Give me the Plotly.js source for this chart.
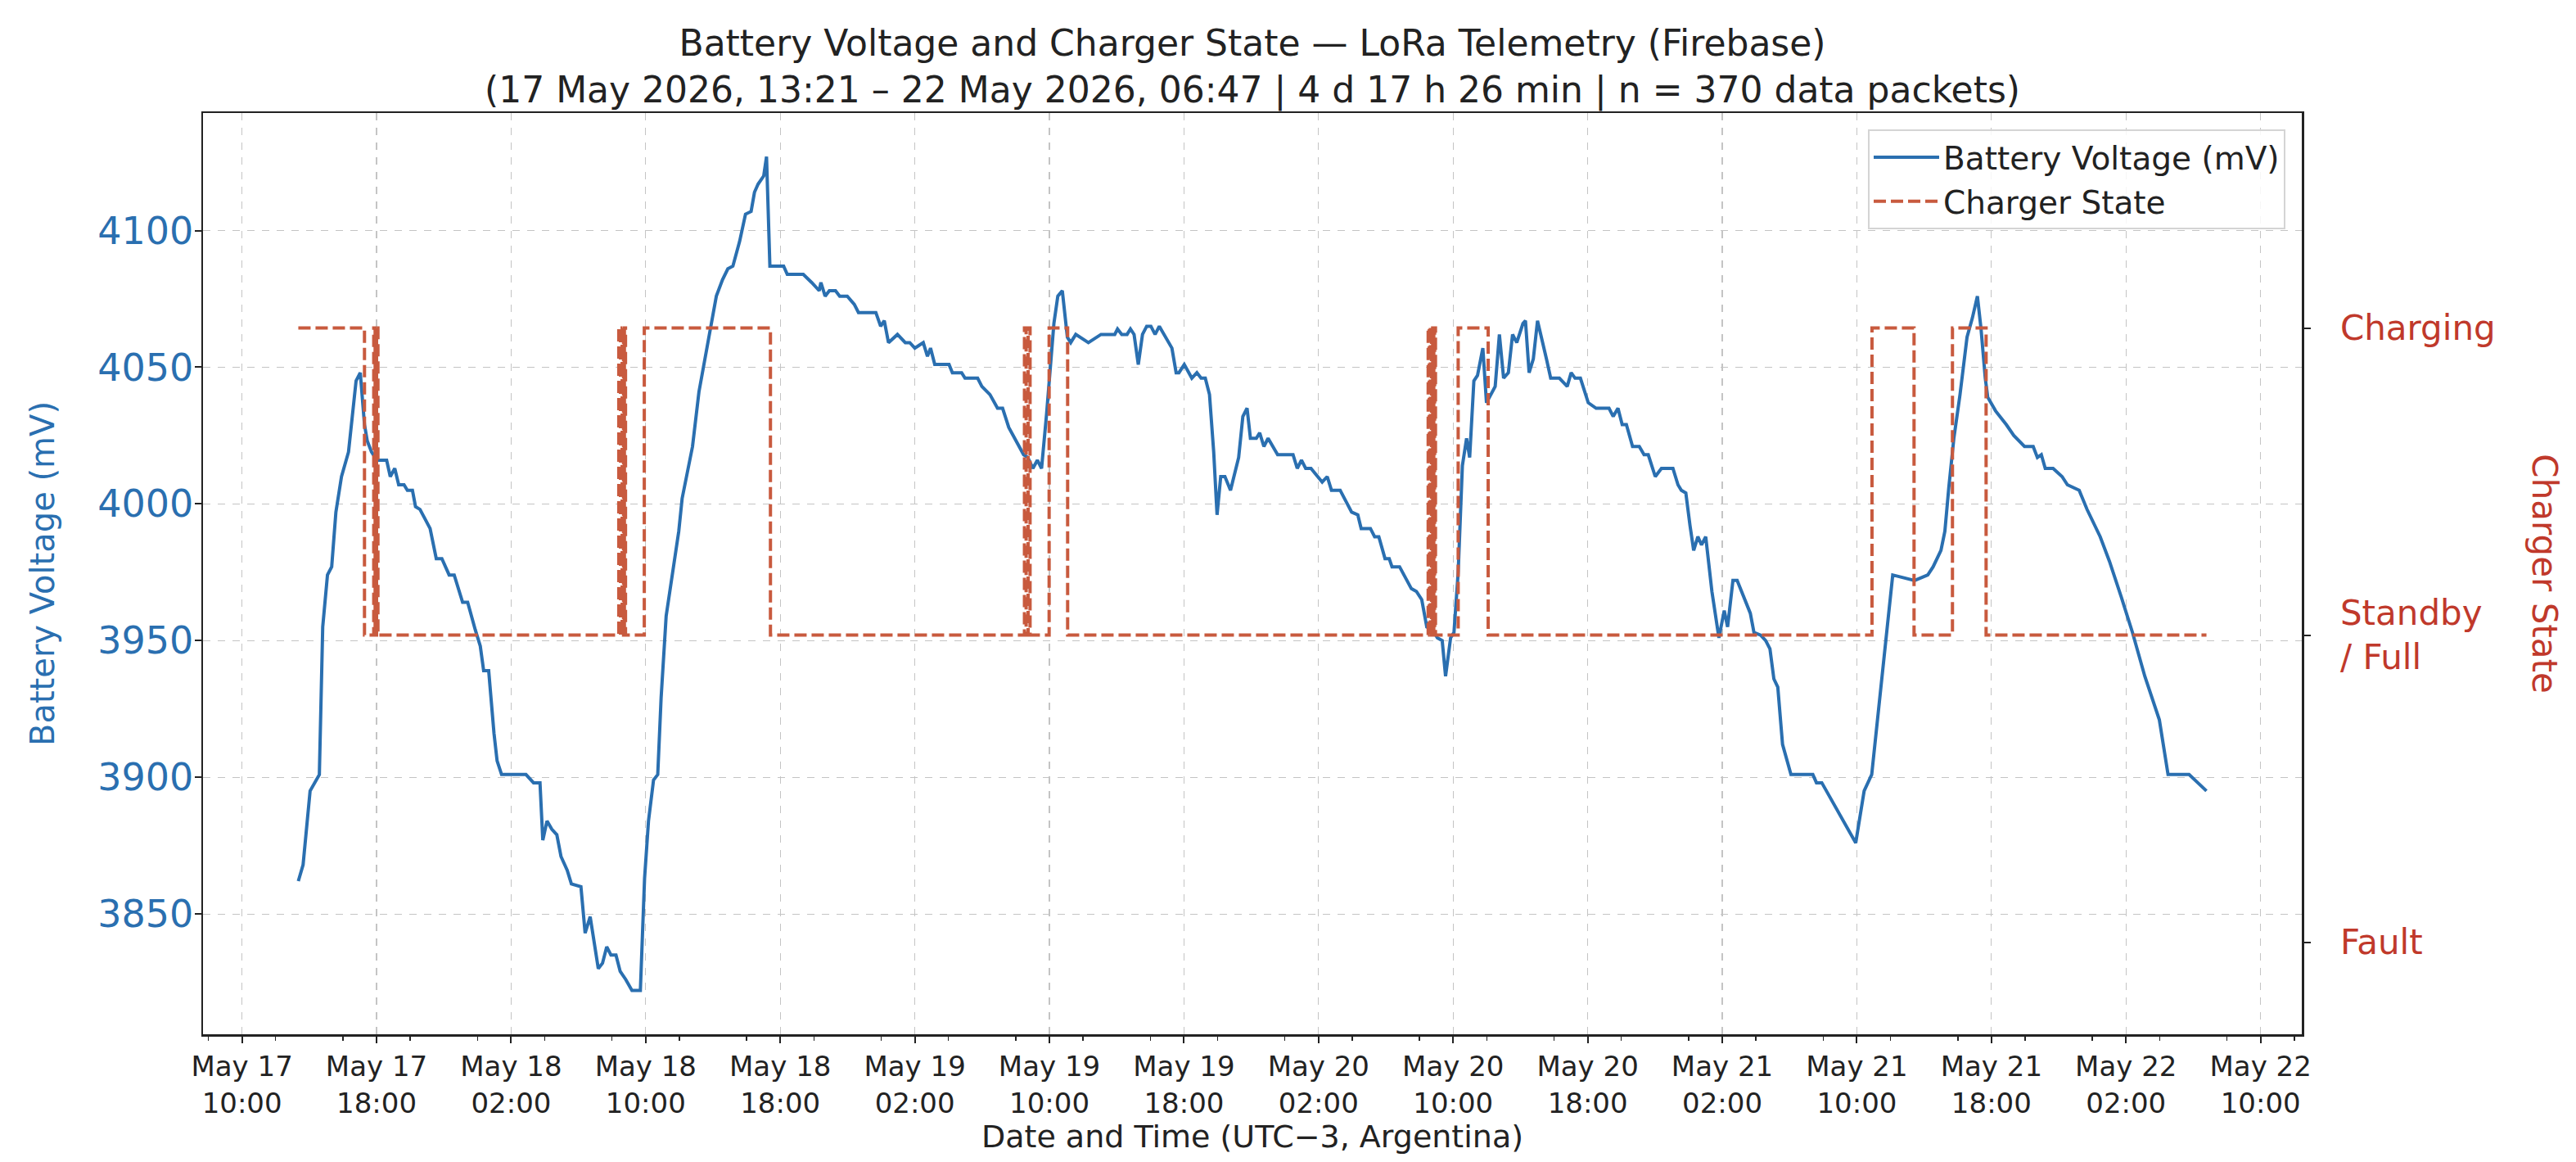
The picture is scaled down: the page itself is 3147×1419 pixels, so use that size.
<!DOCTYPE html>
<html>
<head>
<meta charset="utf-8">
<script src="https://cdn.plot.ly/plotly-3.0.1.min.js"></script>
<style>
  html, body { margin: 0; padding: 0; background: #fff; }
  #chart { width: 3147px; height: 1419px; }
</style>
</head>
<body>
<div id="chart"></div>
<script>
// battery voltage packets (UTC-3)
var voltTimes = [
  '2026-05-17 13:21','2026-05-17 13:38','2026-05-17 14:03','2026-05-17 14:36','2026-05-17 14:48','2026-05-17 15:05',
  '2026-05-17 15:20','2026-05-17 15:35','2026-05-17 15:55','2026-05-17 16:20','2026-05-17 16:47','2026-05-17 17:02',
  '2026-05-17 17:17','2026-05-17 17:27','2026-05-17 17:42','2026-05-17 18:01','2026-05-17 18:36','2026-05-17 18:49',
  '2026-05-17 19:05','2026-05-17 19:19','2026-05-17 19:38','2026-05-17 19:50','2026-05-17 20:08','2026-05-17 20:19',
  '2026-05-17 20:35','2026-05-17 20:50','2026-05-17 21:11','2026-05-17 21:33','2026-05-17 21:53','2026-05-17 22:19',
  '2026-05-17 22:37','2026-05-17 23:07','2026-05-17 23:25','2026-05-17 23:52','2026-05-18 00:10','2026-05-18 00:22',
  '2026-05-18 00:40','2026-05-18 00:59','2026-05-18 01:10','2026-05-18 01:26','2026-05-18 02:53','2026-05-18 03:20',
  '2026-05-18 03:43','2026-05-18 03:53','2026-05-18 04:08','2026-05-18 04:25','2026-05-18 04:43','2026-05-18 04:58',
  '2026-05-18 05:20','2026-05-18 05:35','2026-05-18 06:09','2026-05-18 06:24','2026-05-18 06:42','2026-05-18 07:11',
  '2026-05-18 07:26','2026-05-18 07:41','2026-05-18 07:56','2026-05-18 08:14','2026-05-18 08:29','2026-05-18 08:49',
  '2026-05-18 09:11','2026-05-18 09:41','2026-05-18 09:56','2026-05-18 10:10','2026-05-18 10:28','2026-05-18 10:43',
  '2026-05-18 10:55','2026-05-18 11:13','2026-05-18 11:28','2026-05-18 11:58','2026-05-18 12:10','2026-05-18 12:28',
  '2026-05-18 12:47','2026-05-18 13:10','2026-05-18 13:39','2026-05-18 14:12','2026-05-18 14:34','2026-05-18 14:53',
  '2026-05-18 15:11','2026-05-18 15:35','2026-05-18 15:56','2026-05-18 16:16','2026-05-18 16:28','2026-05-18 16:41',
  '2026-05-18 17:01','2026-05-18 17:11','2026-05-18 17:23','2026-05-18 18:12','2026-05-18 18:25','2026-05-18 19:22',
  '2026-05-18 19:52','2026-05-18 20:19','2026-05-18 20:25','2026-05-18 20:40','2026-05-18 20:55','2026-05-18 21:17',
  '2026-05-18 21:32','2026-05-18 21:59','2026-05-18 22:24','2026-05-18 22:39','2026-05-18 23:41','2026-05-18 23:58',
  '2026-05-19 00:11','2026-05-19 00:26','2026-05-19 00:58','2026-05-19 01:26','2026-05-19 01:42','2026-05-19 02:00',
  '2026-05-19 02:15','2026-05-19 02:30','2026-05-19 02:45','2026-05-19 02:56','2026-05-19 03:11','2026-05-19 04:02',
  '2026-05-19 04:14','2026-05-19 04:47','2026-05-19 04:59','2026-05-19 05:44','2026-05-19 05:59','2026-05-19 06:28',
  '2026-05-19 06:55','2026-05-19 07:13','2026-05-19 07:35','2026-05-19 08:01','2026-05-19 08:28','2026-05-19 08:43',
  '2026-05-19 09:01','2026-05-19 09:17','2026-05-19 09:32','2026-05-19 09:50','2026-05-19 10:04','2026-05-19 10:16',
  '2026-05-19 10:30','2026-05-19 10:46','2026-05-19 11:04','2026-05-19 11:16','2026-05-19 11:34','2026-05-19 12:19',
  '2026-05-19 13:04','2026-05-19 13:53','2026-05-19 14:03','2026-05-19 14:18','2026-05-19 14:37','2026-05-19 14:49',
  '2026-05-19 15:02','2026-05-19 15:17','2026-05-19 15:32','2026-05-19 15:47','2026-05-19 16:02','2026-05-19 16:17',
  '2026-05-19 16:32','2026-05-19 16:55','2026-05-19 17:17','2026-05-19 17:32','2026-05-19 17:42','2026-05-19 18:01',
  '2026-05-19 18:28','2026-05-19 18:46','2026-05-19 19:01','2026-05-19 19:16','2026-05-19 19:31','2026-05-19 19:46',
  '2026-05-19 19:58','2026-05-19 20:11','2026-05-19 20:26','2026-05-19 20:46','2026-05-19 21:15','2026-05-19 21:30',
  '2026-05-19 21:45','2026-05-19 21:57','2026-05-19 22:18','2026-05-19 22:30','2026-05-19 22:45','2026-05-19 23:00',
  '2026-05-19 23:34','2026-05-20 00:29','2026-05-20 00:44','2026-05-20 00:59','2026-05-20 01:14','2026-05-20 01:33',
  '2026-05-20 02:13','2026-05-20 02:31','2026-05-20 02:46','2026-05-20 03:17','2026-05-20 03:58','2026-05-20 04:20',
  '2026-05-20 04:32','2026-05-20 05:05','2026-05-20 05:20','2026-05-20 05:35','2026-05-20 05:57','2026-05-20 06:12',
  '2026-05-20 06:22','2026-05-20 06:49','2026-05-20 07:11','2026-05-20 07:31','2026-05-20 07:49','2026-05-20 08:08',
  '2026-05-20 08:26','2026-05-20 08:46','2026-05-20 09:04','2026-05-20 09:21','2026-05-20 09:33','2026-05-20 09:51',
  '2026-05-20 10:03','2026-05-20 10:18','2026-05-20 10:33','2026-05-20 10:48','2026-05-20 10:59','2026-05-20 11:14',
  '2026-05-20 11:27','2026-05-20 11:46','2026-05-20 11:59','2026-05-20 12:30','2026-05-20 12:45','2026-05-20 13:00',
  '2026-05-20 13:17','2026-05-20 13:32','2026-05-20 13:47','2026-05-20 14:09','2026-05-20 14:18','2026-05-20 14:31',
  '2026-05-20 14:46','2026-05-20 15:01','2026-05-20 15:33','2026-05-20 15:48','2026-05-20 16:19','2026-05-20 16:47',
  '2026-05-20 17:01','2026-05-20 17:15','2026-05-20 17:34','2026-05-20 18:02','2026-05-20 18:30','2026-05-20 19:16',
  '2026-05-20 19:31','2026-05-20 19:48','2026-05-20 20:03','2026-05-20 20:18','2026-05-20 20:40','2026-05-20 21:04',
  '2026-05-20 21:21','2026-05-20 21:36','2026-05-20 22:01','2026-05-20 22:23','2026-05-20 23:04','2026-05-20 23:22',
  '2026-05-20 23:34','2026-05-20 23:50','2026-05-21 00:05','2026-05-21 00:18','2026-05-21 00:33','2026-05-21 00:46',
  '2026-05-21 01:01','2026-05-21 01:23','2026-05-21 01:48','2026-05-21 02:07','2026-05-21 02:19','2026-05-21 02:38',
  '2026-05-21 02:53','2026-05-21 03:21','2026-05-21 03:40','2026-05-21 03:53','2026-05-21 04:17','2026-05-21 04:35',
  '2026-05-21 04:50','2026-05-21 05:04','2026-05-21 05:18','2026-05-21 05:35','2026-05-21 06:05','2026-05-21 07:23',
  '2026-05-21 07:36','2026-05-21 07:55','2026-05-21 09:56','2026-05-21 10:26','2026-05-21 10:53','2026-05-21 12:08',
  '2026-05-21 13:26','2026-05-21 14:13','2026-05-21 14:32','2026-05-21 15:00','2026-05-21 15:14','2026-05-21 15:28',
  '2026-05-21 15:46','2026-05-21 16:08','2026-05-21 16:33','2026-05-21 16:52','2026-05-21 17:10','2026-05-21 17:23',
  '2026-05-21 17:38','2026-05-21 17:47','2026-05-21 18:15','2026-05-21 18:53','2026-05-21 19:20','2026-05-21 19:58',
  '2026-05-21 20:29','2026-05-21 20:44','2026-05-21 20:58','2026-05-21 21:12','2026-05-21 21:40','2026-05-21 22:12',
  '2026-05-21 22:31','2026-05-21 23:13','2026-05-21 23:41','2026-05-22 00:28','2026-05-22 01:01','2026-05-22 01:43',
  '2026-05-22 02:23','2026-05-22 03:07','2026-05-22 03:59','2026-05-22 04:30','2026-05-22 05:45','2026-05-22 06:47'
];
var voltMv = [
  3862,3868,3895,3901,3955,3974, 3977,3997,4010,4019,4045,4048, 4029,4023,4019,4016,4016,4010,
  4013,4007,4007,4005,4005,3999, 3998,3995,3991,3980,3980,3974, 3974,3964,3964,3954,3948,3939,
  3939,3916,3906,3901,3901,3898, 3898,3877,3884,3881,3879,3871, 3866,3861,3860,3843,3849,3830,
  3832,3838,3835,3835,3829,3826, 3822,3822,3863,3884,3899,3901, 3929,3959,3970,3990,4002,4012,
  4021,4041,4058,4076,4082,4086, 4087,4096,4106,4107,4114,4117, 4120,4127,4087,4087,4084,4084,
  4081,4078,4081,4076,4078,4078, 4076,4076,4073,4070,4070,4065, 4067,4059,4062,4059,4059,4057,
  4058,4059,4054,4057,4051,4051, 4048,4048,4046,4046,4043,4040, 4035,4035,4028,4023,4018,4017,
  4013,4016,4013,4033,4052,4066, 4076,4078,4061,4059,4062,4059, 4062,4062,4064,4062,4062,4064,
  4062,4051,4062,4065,4065,4062, 4065,4061,4057,4048,4048,4051, 4046,4048,4046,4046,4040,4019,
  3996,4010,4010,4005,4017,4032, 4035,4024,4024,4026,4021,4024, 4018,4018,4013,4016,4013,4013,
  4008,4010,4005,4005,3997,3996, 3991,3991,3988,3988,3980,3980, 3977,3977,3973,3969,3968,3965,
  3955,3954,3951,3950,3937,3951, 3953,3975,4014,4024,4017,4045, 4047,4057,4037,4043,4062,4046,
  4048,4062,4059,4066,4067,4048, 4053,4067,4053,4046,4046,4043, 4048,4046,4046,4037,4035,4035,
  4032,4035,4029,4029,4021,4021, 4018,4018,4010,4013,4013,4007, 4005,4004,3992,3983,3988,3985,
  3988,3968,3951,3961,3955,3972, 3972,3965,3960,3953,3952,3950, 3947,3936,3933,3912,3901,3901,
  3898,3898,3876,3895,3901,3974, 3972,3974,3977,3983,3990,4006, 4024,4040,4061,4068,4076,4064,
  4046,4039,4034,4029,4025,4021, 4021,4017,4018,4013,4013,4010, 4007,4005,3998,3988,3979,3966,
  3953,3937,3921,3901,3901,3895
];

// charger state changes (step, held until next change)
var chargerTimes = [
  '2026-05-17 13:21','2026-05-17 17:17','2026-05-17 17:50','2026-05-17 17:55','2026-05-17 18:00','2026-05-17 18:05',
  '2026-05-18 08:24','2026-05-18 08:30','2026-05-18 08:36','2026-05-18 08:41','2026-05-18 08:44','2026-05-18 08:48',
  '2026-05-18 09:55','2026-05-18 17:25',
  '2026-05-19 08:31','2026-05-19 08:37','2026-05-19 08:44','2026-05-19 08:51','2026-05-19 09:59','2026-05-19 11:05',
  '2026-05-20 08:31','2026-05-20 08:35','2026-05-20 08:39','2026-05-20 08:43','2026-05-20 08:47','2026-05-20 08:51',
  '2026-05-20 08:54','2026-05-20 08:57','2026-05-20 10:18','2026-05-20 12:05',
  '2026-05-21 10:54','2026-05-21 13:24','2026-05-21 15:41','2026-05-21 17:41','2026-05-22 06:47'
];
var chargerState = [
  2,1,2,1,2,1,
  2,1,2,1,2,1,
  2,1,
  2,1,2,1,2,1,
  2,1,2,1,2,1,
  2,1,2,1,
  2,1,2,1,1
];
var stateVals = [0, 1, 2];
var stateNames = ['Fault', 'Standby<br>/ Full', 'Charging'];

var xRange = ['2026-05-17 07:41', '2026-05-22 12:27'];
var vRange = [3806, 4143];
var sRange = [-0.3, 2.7];

var blue = '#2a6fb0';
var orange = '#c85a3e';
var red = '#c0392b';
var font = 'DejaVu Sans, sans-serif';

var trace1 = {
    type: 'scatter',
    mode: 'lines',
    name: 'Battery Voltage (mV)',
    x: voltTimes,
    y: voltMv,
    line: {color: blue, width: 4},
    yaxis: 'y'
};
var trace2 = {
    type: 'scatter',
    mode: 'lines',
    name: 'Charger State',
    x: chargerTimes,
    y: chargerState,
    line: {color: orange, width: 4, shape: 'hv', dash: '15px,6px'},
    yaxis: 'y2'
};

var layout = {
    width: 3147,
    height: 1419,
    paper_bgcolor: '#fff',
    plot_bgcolor: '#fff',
    font: {family: font, color: '#222'},
    margin: {l: 248, r: 335, t: 138, b: 156},
    title: {
        text: 'Battery Voltage and Charger State — LoRa Telemetry (Firebase)<br>(17 May 2026, 13:21 – 22 May 2026, 06:47 | 4 d 17 h 26 min | n = 370 data packets)',
        font: {size: 44, color: '#222', family: font},
        x: 0.5, xref: 'paper',
        y: 0.952, yref: 'container', yanchor: 'top'
    },
    xaxis: {
        type: 'date',
        range: xRange,
        tickmode: 'linear',
        tick0: '2026-05-17 10:00',
        dtick: 8 * 3600 * 1000,
        tickformat: '%b %d<br>%H:%M',
        tickfont: {size: 34, color: '#222'},
        ticks: 'outside', ticklen: 8, tickwidth: 2, tickcolor: '#222',
        minor: {dtick: 4 * 3600 * 1000, ticks: 'outside', ticklen: 5, tickwidth: 1.5, tickcolor: '#222', showgrid: false},
        showgrid: true, gridcolor: '#c4c4c4', gridwidth: 1.2, griddash: 'dash',
        showline: true, linecolor: '#222', linewidth: 2.5, mirror: true,
        zeroline: false,
        title: {text: 'Date and Time (UTC−3, Argentina)', font: {size: 38, color: '#222'}, standoff: 8}
    },
    yaxis: {
        range: vRange,
        dtick: 50,
        tickfont: {size: 46, color: blue},
        ticks: 'outside', ticklen: 8, tickwidth: 2, tickcolor: '#222',
        ticklabelstandoff: -8,
        showgrid: true, gridcolor: '#c4c4c4', gridwidth: 1.2, griddash: 'dash',
        showline: true, linecolor: '#222', linewidth: 2.5, mirror: true,
        zeroline: false,
        title: {text: 'Battery Voltage (mV)', font: {size: 40, color: blue}, standoff: 40}
    },
    yaxis2: {
        overlaying: 'y',
        side: 'right',
        range: sRange,
        tickmode: 'array',
        tickvals: stateVals,
        ticktext: stateNames,
        tickfont: {size: 42, color: red},
        ticks: 'outside', ticklen: 8, tickwidth: 2, tickcolor: '#222',
        ticklabelstandoff: 28,
        showgrid: false, zeroline: false,
        showline: true, linecolor: '#222', linewidth: 2.5
    },
    legend: {
        x: 0.9922, y: 0.982, xanchor: 'right', yanchor: 'top',
        bgcolor: 'rgba(255,255,255,0.85)',
        bordercolor: '#d4d4d4', borderwidth: 2,
        font: {size: 39, color: '#222'},
        itemwidth: 80,
        tracegroupgap: 0
    },
    annotations: [{
        text: 'Charger State',
        xref: 'paper', yref: 'paper',
        x: 1.1155, y: 0.5,
        xanchor: 'center', yanchor: 'middle',
        textangle: 90,
        showarrow: false,
        font: {size: 42, color: red, family: font}
    }],
    showlegend: true
};

Plotly.newPlot('chart', [trace1, trace2], layout, {displayModeBar: false, staticPlot: true});
</script>
</body>
</html>
